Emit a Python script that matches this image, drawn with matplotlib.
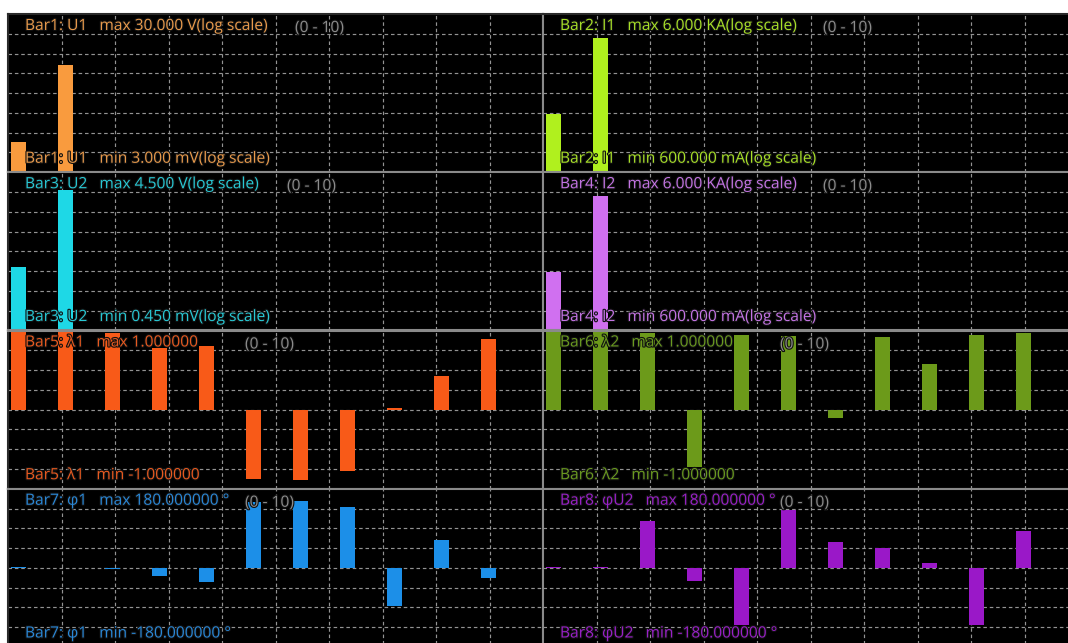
import numpy as np
import matplotlib
matplotlib.use("Agg")
import matplotlib.pyplot as plt
import matplotlib.patheffects as pe


# channel index 0..10 on every bar panel
idx = np.arange(11)

# log-scale panels (values in base units: V or A)
u1_vals = [0.0174, 1.56, 0, 0, 0, 0, 0, 0, 0, 0, 0]
i1_vals = [17.3, 1470.0, 0, 0, 0, 0, 0, 0, 0, 0, 0]
u2_vals = [0.0184, 1.60, 0, 0, 0, 0, 0, 0, 0, 0, 0]
i2_vals = [17.9, 1510.0, 0, 0, 0, 0, 0, 0, 0, 0, 0]

# linear panels
lam1_vals = [1.0, 0.99, 0.97, 0.78, 0.81, -0.88, -0.89, -0.78, 0.02, 0.43, 0.89]
lam2_vals = [0.99, 0.99, 0.97, -0.73, 0.94, 0.93, -0.11, 0.92, 0.58, 0.94, 0.97]
phi1_vals = [1, 0, -2, -19, -32, 150, 152, 139, -87, 64, -23]
phiu2_vals = [1, 1, 106, -30, -129, 131, 58, 46, 10, -131, 83]

# (values, lo, hi, log?, bar colour, text colour, max label, min label)
panels = [
    (u1_vals, 3e-3, 30.0, True, "#f99b3e", "#e89a4c",
     "Bar1: U1   max 30.000 V(log scale)", "Bar1: U1   min 3.000 mV(log scale)"),
    (i1_vals, 0.6, 6000.0, True, "#b0f01e", "#a8e028",
     "Bar2: I1   max 6.000 KA(log scale)", "Bar2: I1   min 600.000 mA(log scale)"),
    (u2_vals, 0.45e-3, 4.5, True, "#1ed8e6", "#28c8d4",
     "Bar3: U2   max 4.500 V(log scale)", "Bar3: U2   min 0.450 mV(log scale)"),
    (i2_vals, 0.6, 6000.0, True, "#d070f0", "#c474e4",
     "Bar4: I2   max 6.000 KA(log scale)", "Bar4: I2   min 600.000 mA(log scale)"),
    (lam1_vals, -1.0, 1.0, False, "#f85a18", "#e85a20",
     "Bar5: λ1   max 1.000000", "Bar5: λ1   min -1.000000"),
    (lam2_vals, -1.0, 1.0, False, "#6c9a1a", "#6a9a20",
     "Bar6: λ2   max 1.000000", "Bar6: λ2   min -1.000000"),
    (phi1_vals, -180.0, 180.0, False, "#1c8fe8", "#2a88d8",
     "Bar7: φ1   max 180.000000 °", "Bar7: φ1   min -180.000000 °"),
    (phiu2_vals, -180.0, 180.0, False, "#9a18c8", "#9a20c8",
     "Bar8: φU2   max 180.000000 °", "Bar8: φU2   min -180.000000 °"),
]
range_text = "(0 - 10)"
range_dx = [287, 280, 279, 280, 237, 237, 237, 237]  # px from panel left

W, H = 1068, 643
PX = 72 / 100  # points per pixel
plt.rcParams["font.family"] = ["Open Sans", "DejaVu Sans"]

fig = plt.figure(figsize=(W / 100, H / 100), dpi=100, facecolor="white")

left0, top0 = 8, 14
pw, ph = 535, 158.25
grid_kw = dict(color="#939393", lw=0.85, linestyle=(0, (3, 2.4)), zorder=1)
stroke = [pe.withStroke(linewidth=1.6, foreground="#101010")]

for k, (vals, lo, hi, is_log, bc, tc, top_lbl, bot_lbl) in enumerate(panels):
    r, c = divmod(k, 2)
    x0 = left0 + c * pw
    y0 = top0 + r * ph
    ax = fig.add_axes([x0 / W, 1 - (y0 + ph) / H, pw / W, ph / H])
    ax.set_facecolor("black")

    # dashed grid: 10 columns x 8 rows per panel
    for f in np.arange(1, 10) / 10:
        ax.plot([f, f], [0, 1], transform=ax.transAxes, **grid_kw)
    for f in np.arange(1, 8) / 8:
        ax.plot([0, 1], [f, f], transform=ax.transAxes, **grid_kw)

    v = np.asarray(vals, dtype=float)
    if is_log:
        ax.set_yscale("log")
        ax.bar(idx, np.clip(v - lo, 0, None), bottom=lo, width=0.32,
               color=bc, zorder=2)
    else:
        ax.bar(idx, v, width=0.32, color=bc, zorder=2)
    ax.set_ylim(lo, hi)
    ax.set_xlim(-0.223, 11.16)

    ax.set_xticks([])
    ax.set_yticks([])
    ax.minorticks_off()
    for side in ["top", "bottom", "left", "right"]:
        ax.spines[side].set_color("#8a8a8a")
        ax.spines[side].set_linewidth(1.5)
    if r == 0:
        ax.spines["top"].set_color("#2a2a2a")
    if c == 0:
        ax.spines["left"].set_color("#2a2a2a")

    ax.annotate(top_lbl, xy=(0, 1), xycoords="axes fraction",
                xytext=(17 * PX, -12 * PX), textcoords="offset points",
                ha="left", va="center", fontsize=11.2, color=tc,
                path_effects=stroke, zorder=5)
    ax.annotate(bot_lbl, xy=(0, 0), xycoords="axes fraction",
                xytext=(17 * PX, 13.5 * PX), textcoords="offset points",
                ha="left", va="center", fontsize=11.2, color=tc,
                path_effects=stroke, zorder=5)
    ax.annotate(range_text, xy=(0, 1), xycoords="axes fraction",
                xytext=(range_dx[k] * PX, -14 * PX), textcoords="offset points",
                ha="left", va="center", fontsize=11.2, color="#8c8c8c",
                path_effects=stroke, zorder=5)

fig.savefig("out.png", dpi=100, facecolor="white")
